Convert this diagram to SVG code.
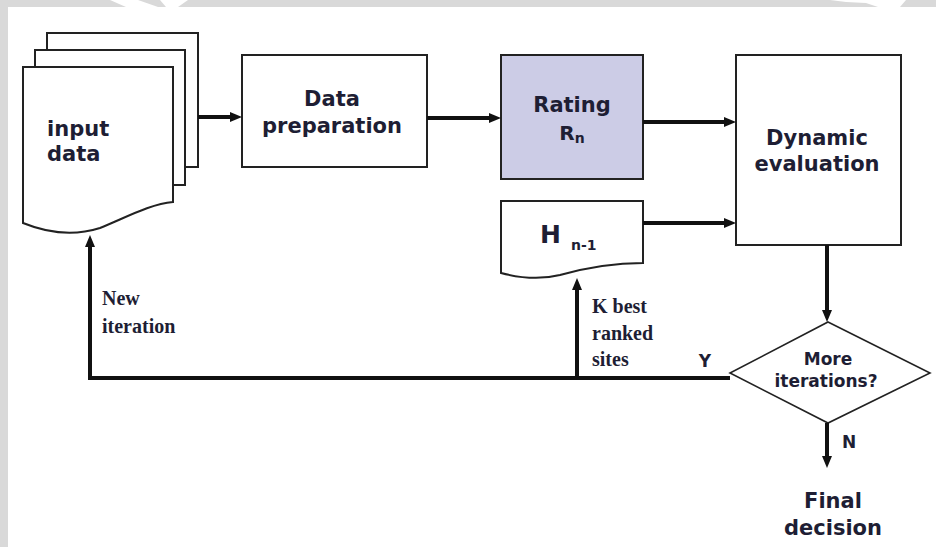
<svg xmlns="http://www.w3.org/2000/svg" width="936" height="547" viewBox="0 0 936 547">
  <style>
    .box { fill: #ffffff; stroke: #222222; stroke-width: 2; }
    .rating { fill: #cccce6; stroke: #222222; stroke-width: 2; }
    .decision { fill: #ffffff; stroke: #222222; stroke-width: 1.6; }
    .lbl { font-family: "DejaVu Sans", Verdana, sans-serif; font-weight: bold; fill: #1e1e34; text-anchor: middle; }
    .note { font-family: "Liberation Serif", "Times New Roman", serif; font-weight: bold; fill: #1e1e34; font-size: 20px; }
    .wire { fill: none; stroke: #111111; stroke-width: 4; }
  </style>
  <defs>
    <marker id="head" viewBox="0 0 12 10" refX="6" refY="5" markerWidth="12" markerHeight="10" markerUnits="userSpaceOnUse" orient="auto">
      <path d="M0,0 L12,5 L0,10 z" fill="#111111"/>
    </marker>
  </defs>

  <!-- page background -->
  <rect x="0" y="0" width="936" height="547" fill="#d9d9d9"/>
  <rect x="8" y="7" width="928" height="540" fill="#ffffff"/>
  <polygon points="110,0 138,0 158,7 126,7" fill="#ffffff"/>
  <polygon points="160,0 188,0 178,7 166,7" fill="#ffffff"/>
  <polygon points="830,0 906,0 900,7 878,7 866,3 846,2" fill="#ffffff"/>

  <!-- input data: stacked documents -->
  <g id="input-data">
    <rect class="box" x="47" y="33" width="151" height="134"/>
    <rect class="box" x="35" y="50" width="150" height="135"/>
    <path class="box" d="M23,67 H173 V202 C150,204 125,218 100,228 C75,236 50,234 23,223 Z"/>
    <text class="lbl" font-size="21" style="text-anchor:start" x="47" y="136">input</text>
    <text class="lbl" font-size="21" style="text-anchor:start" x="47" y="161">data</text>
  </g>

  <g id="data-preparation">
    <rect class="box" x="242" y="55" width="185" height="112"/>
    <text class="lbl" font-size="21" x="332" y="106">Data</text>
    <text class="lbl" font-size="21" x="332" y="133">preparation</text>
  </g>

  <g id="rating">
    <rect class="rating" x="501" y="55" width="142" height="124"/>
    <text class="lbl" font-size="21" x="572" y="112">Rating</text>
    <text class="lbl" style="font-size:20px" x="572" y="140">R<tspan style="font-size:14px" dy="3">n</tspan></text>
  </g>

  <g id="history">
    <path class="box" d="M501,201 H643 V263 C610,263 585,268 560,275 C540,280 520,278 501,273 Z"/>
    <text class="lbl" font-size="25" style="text-anchor:start" x="540" y="243">H</text>
    <text class="lbl" font-size="14" style="text-anchor:start" x="571" y="250">n-1</text>
  </g>

  <g id="dynamic-evaluation">
    <rect class="box" x="736" y="55" width="165" height="190"/>
    <text class="lbl" font-size="21" x="817" y="145">Dynamic</text>
    <text class="lbl" font-size="21" x="817" y="171">evaluation</text>
  </g>

  <g id="more-iterations">
    <polygon class="decision" points="828,322 930,373 828,423 730,373"/>
    <text class="lbl" font-size="17" x="828" y="365">More</text>
    <text class="lbl" font-size="17" x="826" y="387">iterations?</text>
  </g>

  <g id="final-decision">
    <text class="lbl" font-size="21" x="833" y="508">Final</text>
    <text class="lbl" font-size="21" x="833" y="535">decision</text>
  </g>

  <!-- connectors -->
  <g id="connectors">
    <line class="wire" x1="198" y1="117" x2="236" y2="117" marker-end="url(#head)"/>
    <line class="wire" x1="427" y1="118" x2="495" y2="118" marker-end="url(#head)"/>
    <line class="wire" x1="643" y1="122" x2="730" y2="122" marker-end="url(#head)"/>
    <line class="wire" x1="643" y1="223" x2="730" y2="223" marker-end="url(#head)"/>
    <line class="wire" x1="827" y1="245" x2="827" y2="316" marker-end="url(#head)"/>
    <line class="wire" x1="827" y1="423" x2="827" y2="462" marker-end="url(#head)"/>
    <polyline class="wire" points="730,378 90,378 90,241" marker-end="url(#head)"/>
    <line class="wire" x1="577" y1="378" x2="577" y2="284" marker-end="url(#head)"/>

    <text class="note" x="102" y="305">New</text>
    <text class="note" x="102" y="333">iteration</text>
    <text class="note" x="592" y="313">K best</text>
    <text class="note" x="592" y="340">ranked</text>
    <text class="note" x="592" y="366">sites</text>
    <text class="lbl" font-size="17" x="705" y="367">Y</text>
    <text class="lbl" font-size="17" x="849" y="448">N</text>
  </g>
</svg>
